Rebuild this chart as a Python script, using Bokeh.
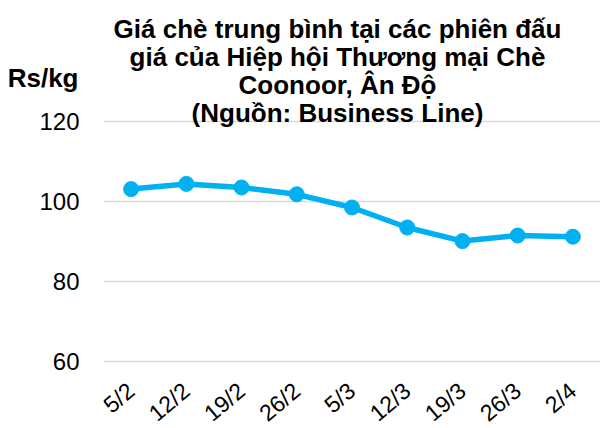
import math
from bokeh.plotting import figure
from bokeh.models import FixedTicker, Label, FactorRange, LinearAxis
from bokeh.embed import file_html
from bokeh.resources import INLINE

dates = ["5/2", "12/2", "19/2", "26/2", "5/3", "12/3", "19/3", "26/3", "2/4"]
prices = [103.1, 104.4, 103.5, 101.8, 98.5, 93.5, 90.1, 91.5, 91.2]
y_ticks = [60, 80, 100, 120]
title_lines = [
    "Giá chè trung bình tại các phiên đấu",
    "giá của Hiệp hội Thương mại Chè",
    "Coonoor, Ân Độ",
    "(Nguồn: Business Line)",
]
unit_label = "Rs/kg"

FONT = "Liberation Sans"
BLUE = "#00B0F0"

W, H = 600, 428
FRAME_LEFT = 103
FRAME_BOTTOM = H
PX_PER_UNIT = 4.0
Y_MIN = 60 - (FRAME_BOTTOM - 361) / PX_PER_UNIT
Y_MAX = 120 + 121 / PX_PER_UNIT

p = figure(width=W, height=H, x_range=FactorRange(*dates), y_range=(Y_MIN, Y_MAX),
           output_backend="svg", toolbar_location=None, title=None,
           min_border_left=FRAME_LEFT, min_border_right=0, min_border_top=0,
           min_border_bottom=0)
p.outline_line_color = None
p.background_fill_color = "white"
p.border_fill_color = "white"

p.line(x=dates, y=prices, line_color=BLUE, line_width=5.5)
p.scatter(x=dates, y=prices, size=15, fill_color=BLUE, line_color=BLUE)

ticker = FixedTicker(ticks=y_ticks)
p.xgrid.grid_line_color = None
p.ygrid.ticker = ticker
p.ygrid.grid_line_color = "#D9D9D9"
p.ygrid.grid_line_width = 1.5


def plain(ax):
    ax.axis_line_color = None
    ax.major_tick_line_color = None
    ax.minor_tick_line_color = None
    ax.major_tick_out = 0
    ax.major_tick_in = 0
    ax.minor_tick_out = 0
    ax.minor_tick_in = 0
    ax.major_label_text_font = FONT
    ax.major_label_text_color = "#000000"


yax = p.yaxis[0]
xax = p.xaxis[0]
yax.ticker = ticker
plain(xax)
plain(yax)
yax.major_label_text_font_size = "24px"
yax.major_label_standoff = 24
# category axis pinned at the 60 line so its labels sit inside the canvas
xax.fixed_location = y_ticks[0]
xax.major_label_text_font_size = "23px"
xax.major_label_orientation = 0.70
xax.major_label_standoff = 26

# unit label "Rs/kg" as a single-tick outer axis on the left
unit_y = 131.0
unit_axis = LinearAxis(ticker=FixedTicker(ticks=[unit_y]),
                       major_label_overrides={unit_y: unit_label})
plain(unit_axis)
unit_axis.major_label_text_font_size = "26px"
unit_axis.major_label_text_font_style = "bold"
unit_axis.major_label_standoff = -42
p.add_layout(unit_axis, "left")

title_center_x = 337
baselines = [28, 56, 84, 112]
for txt, by in zip(title_lines, baselines):
    p.add_layout(Label(x=title_center_x - FRAME_LEFT, y=FRAME_BOTTOM - by,
                       x_units="screen", y_units="screen", text=txt,
                       text_align="center", text_baseline="alphabetic",
                       text_font=FONT, text_font_size="26px",
                       text_font_style="bold", text_color="#000000"))

open("out.html", "w").write(file_html(p, INLINE))
